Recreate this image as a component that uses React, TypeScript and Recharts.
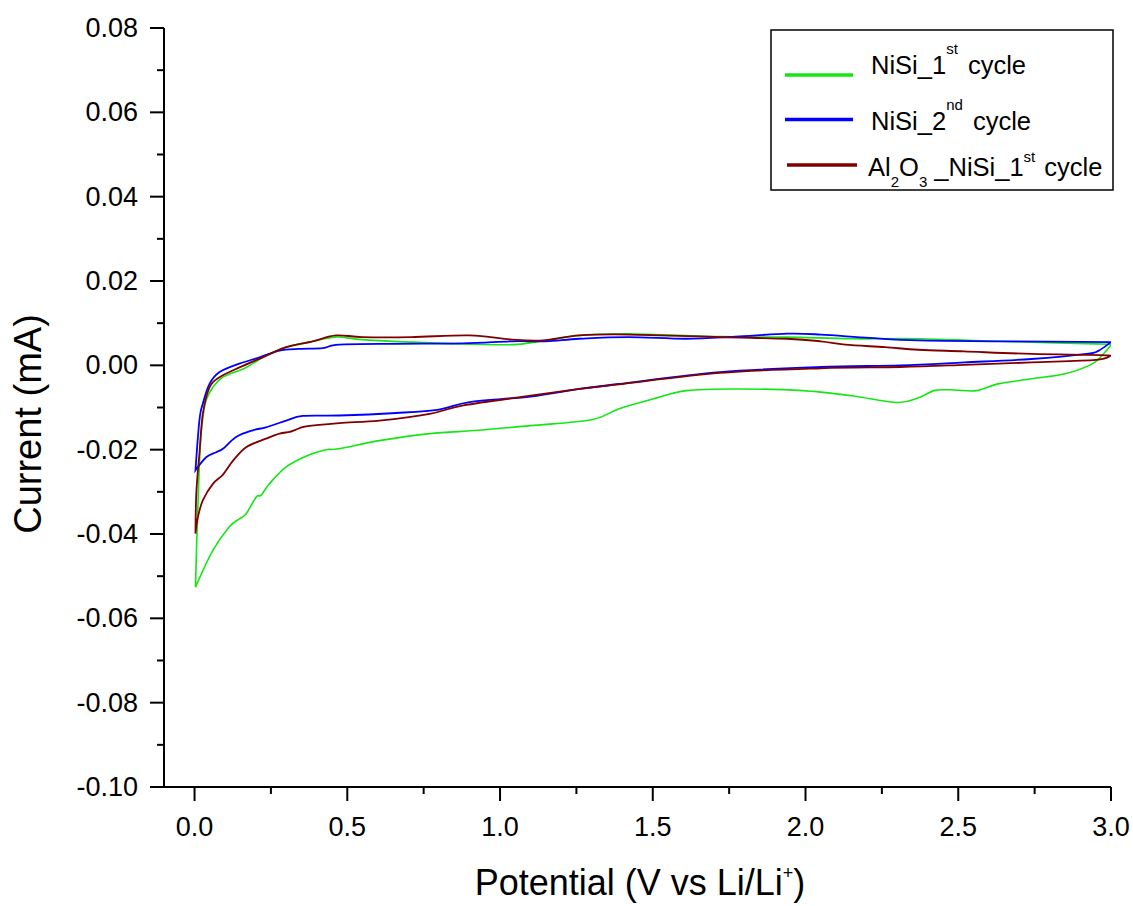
import React from 'react';
import { LineChart, Line, XAxis, YAxis } from 'recharts';

// ---- data (potential V vs Li/Li+, current mA) ----
const nisi1stPotential = [
  3.0, 2.98, 2.94, 2.85, 2.74, 2.63, 2.56, 2.5, 2.47, 2.42, 2.37, 2.3, 2.15, 1.99, 1.77, 1.61, 1.5, 1.39, 1.3,
  1.1, 0.93, 0.77, 0.61, 0.47, 0.43, 0.37, 0.3, 0.245, 0.218, 0.202, 0.169, 0.147, 0.114, 0.06, 0.003,
  0.008, 0.018, 0.028, 0.038, 0.06, 0.093, 0.169, 0.234, 0.3, 0.387, 0.463, 0.55, 0.71, 0.88, 1.04, 1.15,
  1.26, 1.42, 1.72, 1.94, 2.15, 2.37, 2.63, 2.95, 3.0,
];
const nisi1stCurrent = [
  0.0048, 0.0031, 0.0004, -0.002, -0.0032, -0.0044, -0.006, -0.0059, -0.0058, -0.006, -0.0077, -0.0088, -0.0072,
  -0.006, -0.0056, -0.006, -0.008, -0.0103, -0.0129, -0.0143, -0.0154, -0.0162, -0.0178, -0.0198, -0.02, -0.0214,
  -0.0241, -0.0281, -0.0308, -0.0312, -0.0352, -0.0364, -0.0383, -0.0439, -0.0526,
  -0.04, -0.02, -0.012, -0.0083, -0.0052, -0.0028, -0.0005, 0.0023, 0.0043, 0.0057, 0.0067, 0.0061, 0.0055,
  0.0051, 0.0049, 0.0059, 0.0071, 0.0075, 0.0068, 0.0067, 0.0063, 0.0063, 0.0057, 0.0051, 0.005,
];

const nisi2ndPotential = [
  3.0, 2.96, 2.92, 2.74, 2.52, 2.31, 2.05, 1.72, 1.39, 1.26, 1.1, 0.9, 0.8, 0.66, 0.474, 0.354, 0.3, 0.234,
  0.191, 0.136, 0.093, 0.071, 0.038, 0.003,
  0.016, 0.027, 0.049, 0.082, 0.147, 0.213, 0.278, 0.343, 0.42, 0.474, 0.66, 0.88, 1.04, 1.15, 1.26, 1.42,
  1.61, 1.77, 1.94, 2.05, 2.21, 2.37, 2.63, 3.0,
];
const nisi2ndCurrent = [
  0.0055, 0.0035, 0.0027, 0.0015, 0.0007, 0.0, -0.0004, -0.0016, -0.0044, -0.0056, -0.0074, -0.0087, -0.0105,
  -0.0113, -0.0119, -0.012, -0.0131, -0.0147, -0.0154, -0.017, -0.0198, -0.0206, -0.0218, -0.0249,
  -0.013, -0.0091, -0.0044, -0.0016, 0.0004, 0.0019, 0.0035, 0.0039, 0.0041, 0.0049, 0.0051, 0.0052, 0.0057,
  0.0057, 0.0063, 0.0067, 0.0063, 0.0068, 0.0075, 0.0073, 0.0065, 0.0059, 0.0057, 0.0055,
];

const alNisi1stPotential = [
  3.0, 2.95, 2.74, 2.52, 2.31, 2.05, 1.72, 1.39, 1.26, 1.1, 0.88, 0.77, 0.605, 0.474, 0.365, 0.33, 0.311,
  0.278, 0.234, 0.169, 0.126, 0.093, 0.06, 0.027, 0.011, 0.003,
  0.006, 0.016, 0.027, 0.049, 0.082, 0.147, 0.223, 0.3, 0.387, 0.463, 0.55, 0.71, 0.9, 1.04, 1.14, 1.26,
  1.42, 1.72, 1.94, 2.05, 2.13, 2.26, 2.37, 2.52, 2.74, 2.93, 3.0,
];
const alNisi1stCurrent = [
  0.0023, 0.0013, 0.0007, 0.0001, -0.0004, -0.0007, -0.0018, -0.0045, -0.0056, -0.0072, -0.0095, -0.0115,
  -0.0131, -0.0137, -0.0145, -0.0153, -0.0158, -0.0162, -0.0174, -0.0194, -0.0226, -0.0259, -0.0281, -0.032,
  -0.036, -0.0399,
  -0.03, -0.0209, -0.0115, -0.0052, -0.0028, -0.0005, 0.0019, 0.0043, 0.0057, 0.0071, 0.0067, 0.0067, 0.0071,
  0.0061, 0.0059, 0.0071, 0.0073, 0.0067, 0.0063, 0.0057, 0.0049, 0.0043, 0.0037, 0.0033, 0.0027, 0.0025,
  0.0023,
];

const potentialTicks = [0, 0.25, 0.5, 0.75, 1.0, 1.25, 1.5, 1.75, 2.0, 2.25, 2.5, 2.75, 3.0];
const currentTicks = [
  -0.1, -0.09, -0.08, -0.07, -0.06, -0.05, -0.04, -0.03, -0.02, -0.01, 0, 0.01, 0.02, 0.03, 0.04, 0.05, 0.06,
  0.07, 0.08,
];

const toSeries = (v: number[], i: number[]) => v.map((p, k) => ({ v: p, i: i[k] }));
const greenData = toSeries(nisi1stPotential, nisi1stCurrent);
const blueData = toSeries(nisi2ndPotential, nisi2ndCurrent);
const brownData = toSeries(alNisi1stPotential, alNisi1stCurrent);

const FONT = '"Liberation Sans", Arial, sans-serif';
const GREEN = '#14e614';
const BLUE = '#0000ff';
const BROWN = '#800000';

// smooth curve through the points (Catmull-Rom, sharp at turning points), used as a Recharts curve factory
const smoothCurve = (context: any) => {
  let pts: [number, number][] = [];
  const tangent = (k: number): [number, number] => {
    const p0 = pts[k - 1] || pts[k];
    const p1 = pts[k];
    const p2 = pts[k + 1] || pts[k];
    const ax = p1[0] - p0[0];
    const ay = p1[1] - p0[1];
    const bx = p2[0] - p1[0];
    const by = p2[1] - p1[1];
    if (ax * bx + ay * by < 0) return [0, 0];
    return [(p2[0] - p0[0]) / 6, (p2[1] - p0[1]) / 6];
  };
  return {
    areaStart() {},
    areaEnd() {},
    lineStart() {
      pts = [];
    },
    point(x: number, y: number) {
      pts.push([+x, +y]);
    },
    lineEnd() {
      if (!pts.length) return;
      context.moveTo(pts[0][0], pts[0][1]);
      for (let k = 0; k < pts.length - 1; k++) {
        const p1 = pts[k];
        const p2 = pts[k + 1];
        const t1 = tangent(k);
        const t2 = tangent(k + 1);
        context.bezierCurveTo(p1[0] + t1[0], p1[1] + t1[1], p2[0] - t2[0], p2[1] - t2[1], p2[0], p2[1]);
      }
    },
  };
};

const XTick = (props: any) => {
  const { x, y, payload } = props;
  const v = payload.value as number;
  const major = Math.abs(v * 2 - Math.round(v * 2)) < 1e-6;
  return (
    <g>
      <line x1={x} x2={x} y1={y} y2={y + (major ? 14 : 7)} stroke="#000" strokeWidth={2} />
      {major && (
        <text x={x} y={y + 49} textAnchor="middle" fontFamily={FONT} fontSize={27} fill="#000">
          {v.toFixed(1)}
        </text>
      )}
    </g>
  );
};

const YTick = (props: any) => {
  const { x, y, payload } = props;
  const v = payload.value as number;
  const major = Math.round(v * 100) % 2 === 0;
  return (
    <g>
      <line x1={x - (major ? 14 : 7)} x2={x} y1={y} y2={y} stroke="#000" strokeWidth={2} />
      {major && (
        <text x={x - 26} y={y + 9} textAnchor="end" fontFamily={FONT} fontSize={27} fill="#000">
          {v.toFixed(2)}
        </text>
      )}
    </g>
  );
};

export default function App() {
  return (
    <div style={{ position: 'absolute', left: 0, top: 0, width: 1133, height: 906, background: '#fff' }}>
      <LineChart width={1133} height={906} margin={{ top: 28, right: 22, bottom: 59, left: 84 }}>
        <XAxis
          type="number"
          dataKey="v"
          domain={[-0.1, 3.0]}
          ticks={potentialTicks}
          interval={0}
          allowDataOverflow
          height={60}
          tickSize={0}
          tickMargin={0}
          tickLine={false}
          axisLine={{ stroke: '#000', strokeWidth: 2 }}
          tick={<XTick />}
        />
        <YAxis
          type="number"
          dataKey="i"
          domain={[-0.1, 0.08]}
          ticks={currentTicks}
          interval={0}
          allowDataOverflow
          width={80}
          tickSize={0}
          tickMargin={0}
          tickLine={false}
          axisLine={{ stroke: '#000', strokeWidth: 2 }}
          tick={<YTick />}
        />
        <Line data={greenData} dataKey="i" type={smoothCurve as any} stroke={GREEN} strokeWidth={1.6} dot={false} isAnimationActive={false} />
        <Line data={blueData} dataKey="i" type={smoothCurve as any} stroke={BLUE} strokeWidth={1.8} dot={false} isAnimationActive={false} />
        <Line data={brownData} dataKey="i" type={smoothCurve as any} stroke={BROWN} strokeWidth={1.8} dot={false} isAnimationActive={false} />
      </LineChart>
      <svg
        width={1133}
        height={906}
        style={{ position: 'absolute', left: 0, top: 0, pointerEvents: 'none' }}
        fontFamily={FONT}
      >
        {/* axis titles */}
        <text x={640} y={895} textAnchor="middle" fontSize={36} fill="#000">
          Potential (V vs Li/Li<tspan fontSize={18} dy={-16}>+</tspan>
          <tspan dy={16}>)</tspan>
        </text>
        <text x={41} y={424} transform="rotate(-90, 41, 424)" textAnchor="middle" fontSize={38} fill="#000">
          Current (mA)
        </text>
        {/* legend */}
        <rect x={771} y={30} width={342} height={160} fill="#fff" stroke="#000" strokeWidth={1.5} />
        <line x1={785} x2={853} y1={75} y2={75} stroke={GREEN} strokeWidth={3.5} />
        <text x={871} y={73.5} fontSize={25.5} fill="#000">
          NiSi_1<tspan fontSize={15} dy={-20}>st</tspan>
          <tspan dy={20} dx={3}> cycle</tspan>
        </text>
        <line x1={785} x2={853} y1={119.5} y2={119.5} stroke={BLUE} strokeWidth={3.5} />
        <text x={871} y={130} fontSize={25.5} fill="#000">
          NiSi_2<tspan fontSize={15} dy={-20}>nd</tspan>
          <tspan dy={20} dx={3}> cycle</tspan>
        </text>
        <line x1={787} x2={857} y1={165} y2={165} stroke={BROWN} strokeWidth={3.5} />
        <text x={868} y={176} fontSize={25.5} fill="#000">
          Al<tspan fontSize={15} dy={11}>2</tspan>
          <tspan dy={-11}>O</tspan>
          <tspan fontSize={15} dy={11}>3</tspan>
          <tspan dy={-11}> _NiSi_1</tspan>
          <tspan fontSize={15} dy={-14}>st</tspan>
          <tspan dy={14} dx={2}> cycle</tspan>
        </text>
      </svg>
    </div>
  );
}
